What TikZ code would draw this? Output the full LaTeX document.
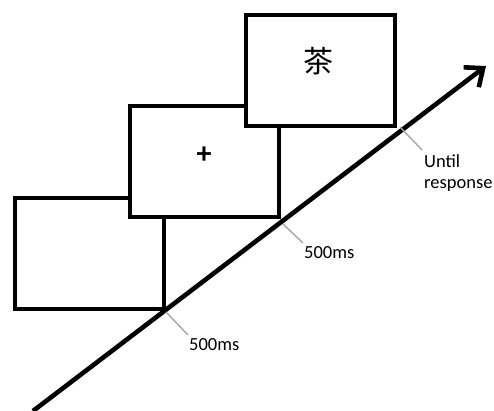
\documentclass[tikz,border=0pt]{standalone}
\usepackage{fontspec}
\setmainfont{Carlito}
\newfontfamily\cjk{Noto Sans CJK SC}
\usetikzlibrary{arrows.meta}
\begin{document}
\begin{tikzpicture}[x=1pt,y=-1pt,
  screen/.style={draw=black,fill=white,line width=3.6pt,minimum width=149pt,minimum height=111pt,inner sep=0pt,anchor=north west},
  tick/.style={draw=gray!70,line width=1.4pt},
  lbl/.style={font=\fontsize{18.5}{21}\selectfont,inner sep=0pt},
  timeline/.style={line width=4.6pt,-{Straight Barb[length=15pt,width=25pt,line width=4.6pt]}}]
\useasboundingbox (0,0) rectangle (494,411);
\node[screen] (s1) at (13,196) {};
\node[screen] (s2) at (128,104) {};
\node[screen] (s3) at (244,13) {};
\node[font=\cjk\fontsize{30}{32}\selectfont,inner sep=0pt] (c) at (318,61) {茶};
\node[font=\bfseries\fontsize{30}{32}\selectfont,inner sep=0pt] (p) at (204,155) {+};
\coordinate (a0) at (33,411);
\coordinate (a1) at (486,66);
\draw[timeline] (a0) -- (a1);
\coordinate (t1) at (166,312);
\coordinate (t2) at (283,224);
\coordinate (t3) at (400,127);
\node[lbl,anchor=west] (l1) at (189,345) {500ms};
\node[lbl,anchor=west] (l2) at (304,253) {500ms};
\node[lbl,anchor=north west,align=left] (l3) at (424,154) {Until\\response};
\draw[tick] (t1) -- (188,335);
\draw[tick] (t2) -- (303,243);
\draw[tick] (t3) -- (422,150);
\end{tikzpicture}
\end{document}
